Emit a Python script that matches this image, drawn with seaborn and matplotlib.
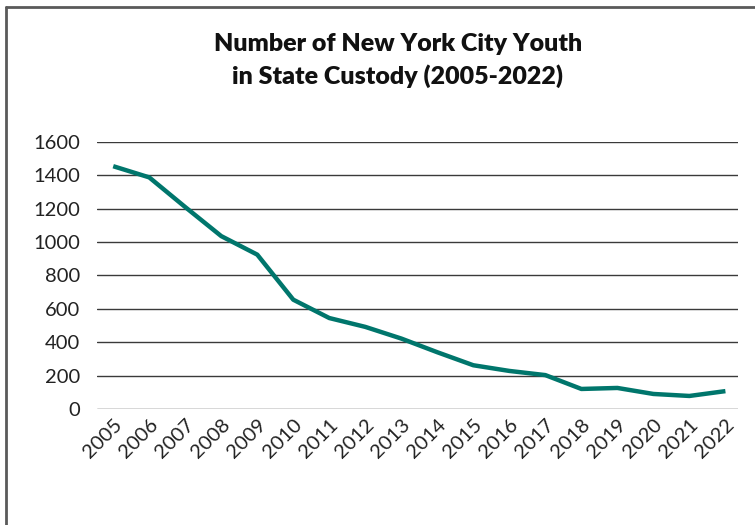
import matplotlib
matplotlib.use('Agg')
import matplotlib.pyplot as plt
import numpy as np
import pandas as pd
import seaborn as sns
from matplotlib.lines import Line2D

# values
years = [2005, 2006, 2007, 2008, 2009, 2010, 2011, 2012, 2013,
         2014, 2015, 2016, 2017, 2018, 2019, 2020, 2021, 2022]
youth_in_custody = [1455, 1388, 1210, 1036, 925, 655, 545, 492, 422,
                    340, 262, 228, 203, 120, 126, 90, 78, 107]
y_ticks = [0, 200, 400, 600, 800, 1000, 1200, 1400, 1600]
title = 'Number of New York City Youth\nin State Custody (2005-2022)'

LINE_COLOR = '#00766c'
GRID_COLOR = '#3a3a3a'

sns.set_style('white')
plt.rcParams['font.family'] = ['Lato', 'DejaVu Sans']

df = pd.DataFrame({'year': years, 'youth': youth_in_custody})

fig = plt.figure(figsize=(7.55, 5.25), dpi=100)
ax = fig.add_axes([0.1285, 0.221, 0.849, 0.5085])

sns.lineplot(data=df, x='year', y='youth', ax=ax, color=LINE_COLOR,
             linewidth=3.2, solid_capstyle='butt')

ax.set_ylim(0, 1600)
ax.set_xlim(2004.55, 2022.35)
ax.set_yticks(y_ticks)
ax.set_yticklabels([str(v) for v in y_ticks])
ax.set_xticks(years)
ax.set_xticklabels([str(y) for y in years], rotation=45, ha='right',
                   rotation_mode='anchor')
ax.tick_params(axis='y', length=0, pad=12, labelsize=14.5, labelcolor='#222222')
ax.tick_params(axis='x', length=0, pad=5, labelsize=14.5, labelcolor='#222222')
ax.set_xlabel('')
ax.set_ylabel('')
for s in ax.spines.values():
    s.set_visible(False)
ax.yaxis.grid(True, color=GRID_COLOR, linewidth=1.0)
ax.set_axisbelow(True)

fig.text(0.527, 0.885, title, ha='center', va='center', fontsize=18,
         fontweight='heavy', color='#111111', linespacing=1.45)

# frame on the left and top edges
fig.add_artist(Line2D([0.0085, 0.0085], [0.0, 0.987], color='#5a5a5a',
                      linewidth=2.0, transform=fig.transFigure))
fig.add_artist(Line2D([0.0075, 1.0], [0.987, 0.987], color='#5a5a5a',
                      linewidth=2.0, transform=fig.transFigure))

fig.savefig('out.png', dpi=100)
